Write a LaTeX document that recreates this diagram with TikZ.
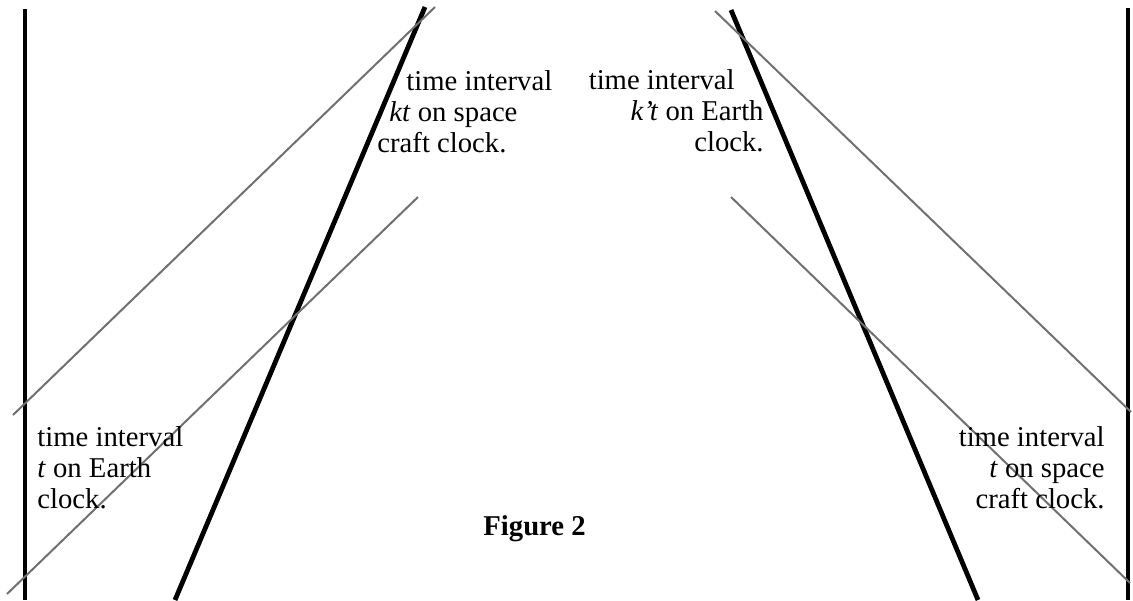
\documentclass[tikz,border=0pt]{standalone}
\usepackage{fontspec}
\setmainfont{Liberation Serif}
\usepackage{xcolor}
\usepackage{tikz}
\usetikzlibrary{positioning}
\definecolor{signalgray}{HTML}{707070}

\begin{document}
\begin{tikzpicture}[
  x=0.5pt,
  y=-0.5pt,
  earth/.style={line width=2pt},
  craft/.style={line width=2.4pt},
  signal/.style={color=signalgray, line width=1pt},
  note/.style={font=\fontsize{14.35pt}{15.4pt}\selectfont, inner sep=0pt},
  caption/.style={font=\fontsize{14.35pt}{15.4pt}\selectfont\bfseries, inner sep=0pt}
]
\useasboundingbox (0,0) rectangle (1133,600);

\coordinate (eLtop) at (24.7,9);
\coordinate (eLbot) at (24.7,600);
\coordinate (eRtop) at (1128,8);
\coordinate (eRbot) at (1128,600);
\coordinate (cLtop) at (425,7);
\coordinate (cLbot) at (175,600);
\coordinate (cRtop) at (731,10);
\coordinate (cRbot) at (978,600);

\coordinate (sL1a) at (13,415);
\coordinate (sL1b) at (435,7);
\coordinate (sL2a) at (7,594);
\coordinate (sL2b) at (418,197);
\coordinate (sR1a) at (715,11);
\coordinate (sR1b) at (1131,412);
\coordinate (sR2a) at (731,197);
\coordinate (sR2b) at (1130,583);

\draw[earth] (eLtop) -- (eLbot);
\draw[earth] (eRtop) -- (eRbot);
\draw[craft] (cLtop) -- (cLbot);
\draw[craft] (cRtop) -- (cRbot);

\draw[signal] (sL1a) -- (sL1b);
\draw[signal] (sL2a) -- (sL2b);
\draw[signal] (sR1a) -- (sR1b);
\draw[signal] (sR2a) -- (sR2b);

\node[note, anchor=base west, align=left] (ktcraft) at (377,152)
  {\hspace*{14.5pt}time interval\\\hspace*{6pt}\textit{kt} on space\\craft clock.};
\node[note, anchor=base east, align=right] (ktearth) at (764,151)
  {time interval\hspace*{14.5pt}\\\textit{k’t} on Earth\hspace*{6pt}\\clock.};
\node[note, anchor=base west, align=left] (tearth) at (37,508)
  {time interval\\\textit{t} on Earth\\clock.};
\node[note, anchor=base east, align=right] (tcraft) at (1105,508)
  {time interval\\\textit{t} on space\\craft clock.};
\node[caption, anchor=base west] (fig) at (483,535) {Figure 2};
\end{tikzpicture}
\end{document}
